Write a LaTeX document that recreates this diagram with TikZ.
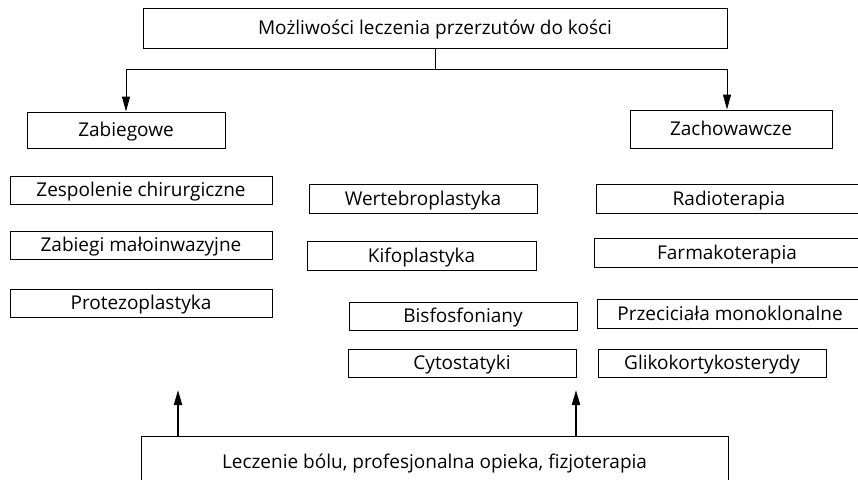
\documentclass[tikz,border=0pt]{standalone}
\usepackage{fontspec}
\setmainfont{Open Sans}
\usetikzlibrary{arrows.meta}

\begin{document}
\begin{tikzpicture}[x=1pt,y=-1pt,
  box/.style={draw, line width=0.9pt, inner sep=0pt, minimum height=29pt,
    text height=13.5pt, text depth=0pt, font=\fontsize{19}{22}\selectfont},
  link/.style={line width=0.9pt, -{Triangle[length=15pt,width=8pt]}},
  uplink/.style={line width=2pt, -{Triangle[length=15pt,width=8pt]}}]
\useasboundingbox (0,0) rectangle (858,479);
\clip (0,0) rectangle (858,479);

% Top box and the two branches
\node[box, minimum width=584pt, minimum height=40pt] (opcje) at (435,28) {Możliwości leczenia przerzutów do kości};
\node[box, minimum width=198pt, minimum height=36pt] (zabiegowe) at (126,130) {Zabiegowe};
\node[box, minimum width=202pt, minimum height=38pt] (zachowawcze) at (731,129) {Zachowawcze};

\coordinate (rozgal) at (435,69);
\draw[line width=0.9pt] (opcje.south) -- (rozgal);
\draw[link] (rozgal) -| (zabiegowe.north);
\draw[link] (rozgal) -| ([xshift=-4pt]zachowawcze.north);

% Left column
\node[box, minimum width=262pt, minimum height=28pt] (zespolenie) at (141,190) {Zespolenie chirurgiczne};
\node[box, minimum width=262pt, minimum height=28pt] (maloinw) at (141,245) {Zabiegi małoinwazyjne};
\node[box, minimum width=262pt, minimum height=28pt] (protezo) at (141,303) {Protezoplastyka};

% Middle column
\node[box, minimum width=228pt] (wertebro) at (423,198.5) {Wertebroplastyka};
\node[box, minimum width=229pt] (kifo) at (421.5,255.5) {Kifoplastyka};
\node[box, minimum width=228pt, minimum height=28pt] (bisfo) at (463,316) {Bisfosfoniany};
\node[box, minimum width=228pt, minimum height=28pt] (cyto) at (462,363) {Cytostatyki};

% Right column (cut at the right edge)
\node[box, minimum width=266pt] (radio) at (729,198.5) {Radioterapia};
\node[box, minimum width=266pt] (farmako) at (727,252.5) {Farmakoterapia};
\node[box, minimum width=266pt] (przeciw) at (730,313.5) {Przeciciała monoklonalne};
\node[box, minimum width=228pt, minimum height=28pt] (gliko) at (712,363) {Glikokortykosterydy};

% Bottom box with arrows up
\node[box, minimum width=587pt, minimum height=52pt] (leczenie) at (434.5,462) {Leczenie bólu, profesjonalna opieka, fizjoterapia};
\coordinate (cel1) at (178,390);
\coordinate (cel2) at (576,390);
\draw[uplink] (leczenie.north -| cel1) -- (cel1);
\draw[uplink] (leczenie.north -| cel2) -- (cel2);
\end{tikzpicture}
\end{document}
